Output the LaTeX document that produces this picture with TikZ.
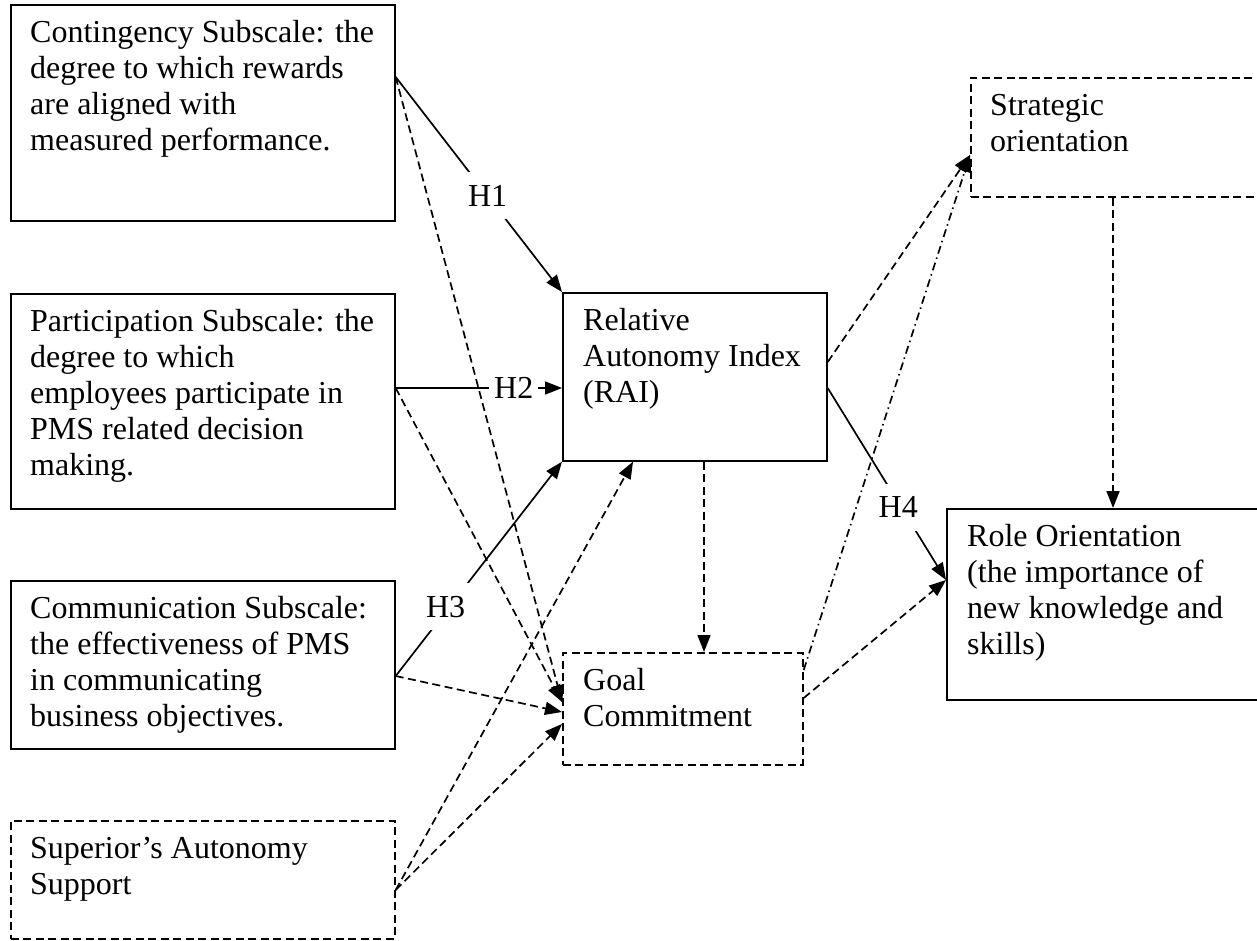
\documentclass[tikz,border=0pt]{standalone}
\usepackage{fontspec}
\setmainfont{Liberation Serif}
\usetikzlibrary{arrows.meta,calc}

\begin{document}
\begin{tikzpicture}[x=1pt,y=-1pt,
  every node/.style={inner sep=0pt},
  box/.style={draw, line width=1.7pt, rectangle, anchor=north west},
  dbox/.style={box, dash pattern=on 8pt off 4.5pt},
  txt/.style={anchor=north west, align=left, font=\fontsize{32pt}{36pt}\selectfont},
  tip/.style={-{Triangle[length=17pt,width=13pt]}},
  sarr/.style={tip, line width=1.7pt},
  darr/.style={tip, line width=1.7pt, dash pattern=on 8pt off 4.5pt},
  ddarr/.style={tip, line width=1.7pt, dash pattern=on 8pt off 4pt on 1.5pt off 4pt},
  hlab/.style={fill=white, inner xsep=5pt, inner ysep=13pt, text height=21pt, text depth=0pt,
               font=\fontsize{32pt}{36pt}\selectfont}
]
\useasboundingbox (0,0) rectangle (1257,941);

% boxes (the two on the right run past the page edge)
\node[box,  minimum width=384pt, minimum height=216pt] (cont)  at (10,4)    {};
\node[box,  minimum width=384pt, minimum height=215pt] (part)  at (10,293)  {};
\node[box,  minimum width=384pt, minimum height=168pt] (comm)  at (10,580)  {};
\node[dbox, minimum width=384pt, minimum height=118pt] (sup)   at (10,820)  {};
\node[box,  minimum width=264pt, minimum height=168pt] (rai)   at (562,292) {};
\node[dbox, minimum width=240pt, minimum height=112pt] (goal)  at (562,652) {};
\node[dbox, minimum width=300pt, minimum height=119pt] (strat) at (970,77)  {};
\node[box,  minimum width=324pt, minimum height=191pt] (role)  at (946,508) {};

% box texts
\node[txt] (cont-t) at ([xshift=20pt,yshift=-9.5pt]cont.north west)
  {\rule{0pt}{28.5pt}Contingency Subscale: the\\degree to which rewards\\are aligned with\\measured performance.};
\node[txt] (part-t) at ([xshift=20pt,yshift=-9.5pt]part.north west)
  {\rule{0pt}{28.5pt}Participation Subscale: the\\degree to which\\employees participate in\\PMS related decision\\making.};
\node[txt] (comm-t) at ([xshift=20pt,yshift=-9.5pt]comm.north west)
  {\rule{0pt}{28.5pt}Communication Subscale:\\the effectiveness of PMS\\in communicating\\business objectives.};
\node[txt] (sup-t) at ([xshift=20pt,yshift=-9.5pt]sup.north west)
  {\rule{0pt}{28.5pt}Superior’s Autonomy\\Support};
\node[txt] (rai-t) at ([xshift=21pt,yshift=-9.5pt]rai.north west)
  {\rule{0pt}{28.5pt}Relative\\Autonomy Index\\(RAI)};
\node[txt] (goal-t) at ([xshift=21pt,yshift=-9.5pt]goal.north west)
  {\rule{0pt}{28.5pt}Goal\\Commitment};
\node[txt] (strat-t) at ([xshift=20pt,yshift=-9.5pt]strat.north west)
  {\rule{0pt}{28.5pt}Strategic\\orientation};
\node[txt] (role-t) at ([xshift=21pt,yshift=-9.5pt]role.north west)
  {\rule{0pt}{28.5pt}Role Orientation\\(the importance of\\new knowledge and\\skills)};

% dashed paths into goal commitment
\draw[darr] ([yshift=-73pt]cont.north east) -- ([yshift=-50pt]goal.north west);
\draw[darr] ([yshift=-95pt]part.north east) -- ([yshift=-50pt]goal.north west);
\draw[darr] ([yshift=-96pt]comm.north east) -- ([yshift=-60pt]goal.north west);
\draw[darr] ([yshift=-70pt]sup.north east)  -- ([yshift=-72pt]goal.north west);
\draw[darr] ([yshift=-70pt]sup.north east)  -- ([xshift=71pt]rai.south west);
\draw[darr] ([xshift=142pt]rai.south west)  -- ([xshift=142pt]goal.north west);

% dashed paths on the right
\draw[darr]  ([yshift=-70pt]rai.north east)  -- ([yshift=-78pt]strat.north west);
\draw[ddarr] ([yshift=-18pt]goal.north east) -- ([yshift=-78pt]strat.north west);
\draw[darr]  ([yshift=-46pt]goal.north east) -- ([yshift=-72pt]role.north west);
\draw[darr]  ([xshift=143pt]strat.south west) -- ([xshift=167pt]role.north west);

% hypotheses
\draw[sarr] ([yshift=-73pt]cont.north east) -- node[hlab, pos=0.553] (h1) {H1} (rai.north west);
\draw[sarr] ([yshift=-95pt]part.north east) -- node[hlab, pos=0.71] (h2) {H2} ([yshift=-96pt]rai.north west);
\draw[sarr] ([yshift=-96pt]comm.north east) -- node[hlab, pos=0.324, xshift=-4pt] (h3) {H3} (rai.south west);
\draw[sarr] ([yshift=-96pt]rai.north east)  -- node[hlab, pos=0.622, xshift=-3pt] (h4) {H4} ([yshift=-72pt]role.north west);
\end{tikzpicture}
\end{document}
